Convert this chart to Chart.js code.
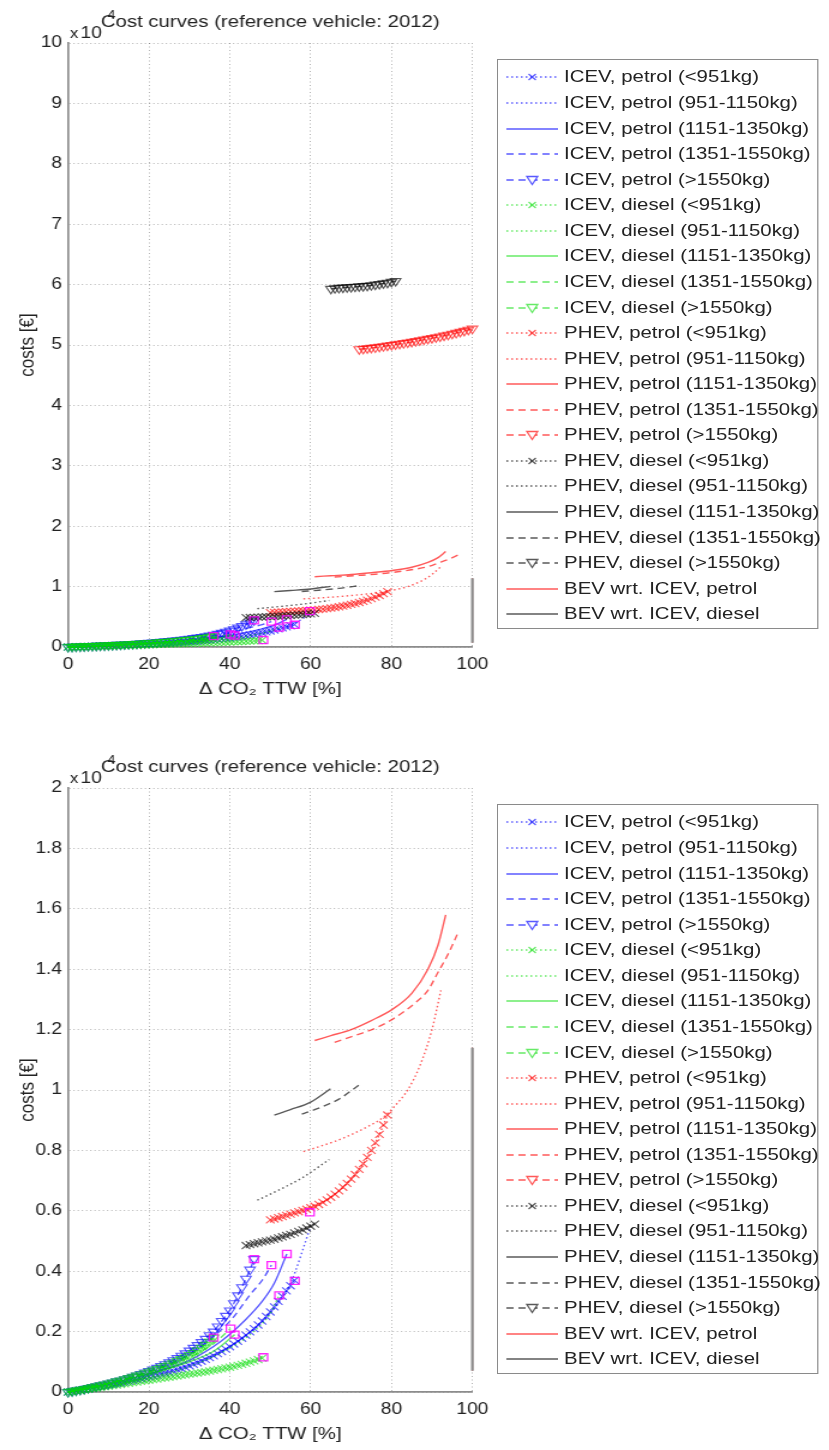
<!DOCTYPE html>
<html>
<head>
<meta charset="utf-8">
<script src="https://cdn.jsdelivr.net/npm/chart.js@4.4.1/dist/chart.umd.min.js"></script>
<style>
html, body { margin: 0; padding: 0; overflow: hidden; background: #fff; }
#fig { position: absolute; left: 0; top: 0; width: 691px; height: 1450px; overflow: hidden;
       transform: scaleX(1.2); transform-origin: 0 0; }
.panel { position: absolute; left: 0; width: 691px; height: 745px; }
.panel canvas.plot { position: absolute; left: 0; top: 0; }
.legend { position: absolute; left: 414px; top: 59px; width: 267.5px; height: 570px;
          box-sizing: border-box; border: 1.5px solid #8a8a8a; padding-top: 4.7px; background: #fff; }
.row { height: 25.57px; display: flex; align-items: center; white-space: nowrap;
       font: 17px "Liberation Sans", Arial, sans-serif; color: #222; }
.row canvas { margin-left: 6.8px; margin-right: 5.3px; flex: none; }
</style>
</head>
<body>
<div id="fig">
  <div class="panel" style="top:0"><canvas class="plot" id="topChart" width="415" height="745"></canvas><div class="legend" id="topLegend"></div></div>
  <div class="panel" style="top:745px"><canvas class="plot" id="bottomChart" width="415" height="745"></canvas><div class="legend" id="bottomLegend"></div></div>
</div>
<script>
// tick values
var xTicks = [0, 20, 40, 60, 80, 100];
var topYTicks = [0, 1, 2, 3, 4, 5, 6, 7, 8, 9, 10];
var bottomYTicks = [0, 0.2, 0.4, 0.6, 0.8, 1, 1.2, 1.4, 1.6, 1.8, 2];

// series: [Δ CO2 TTW %, costs x10^4 €]
var icevPetrolLt951 = [[0,0],[1,0.002],[2,0.004],[3,0.006],[4,0.009],[5,0.011],[6,0.013],[7,0.016],[8,0.018],[9,0.02],[10,0.023],[11,0.025],[12,0.028],[13,0.03],[14,0.033],[15,0.036],[16,0.039],[17,0.041],[18,0.044],[19,0.047],[20,0.05],[21,0.053],[22,0.056],[23,0.06],[24,0.063],[25,0.066],[26,0.07],[27,0.074],[28,0.078],[29,0.082],[30,0.087],[31,0.092],[32,0.097],[33,0.102],[34,0.108],[35,0.114],[36,0.12],[37,0.127],[38,0.134],[39,0.142],[40,0.15],[41,0.159],[42,0.168],[43,0.178],[44,0.188],[45,0.199],[46,0.21],[47,0.222],[48,0.235],[49,0.25],[50,0.265],[51,0.282],[52,0.3],[53,0.317],[54,0.335],[55,0.352],[56,0.37]];
var icevPetrol951 = [[0,0],[10,0.022],[20,0.05],[30,0.09],[40,0.15],[45,0.195],[50,0.26],[55,0.36],[59.8,0.54]];
var icevPetrol1151 = [[0,0],[10,0.026],[20,0.06],[30,0.105],[38,0.17],[43.7,0.237],[48,0.3],[51,0.36],[54.1,0.457]];
var icevPetrol1351 = [[0,0],[10,0.03],[20,0.068],[30,0.125],[40.2,0.237],[45.2,0.325],[48,0.37],[50.3,0.42]];
var icevPetrolGt1550 = [[0,0],[1,0.0025],[2,0.005],[3,0.0075],[4,0.01],[5,0.013],[6,0.016],[7,0.019],[8,0.022],[9,0.025],[10,0.028],[11,0.031],[12,0.035],[13,0.038],[14,0.042],[15,0.046],[16,0.05],[17,0.054],[18,0.059],[19,0.064],[20,0.069],[21,0.074],[22,0.08],[23,0.086],[24,0.092],[25,0.098],[26,0.105],[27,0.112],[28,0.12],[29,0.128],[30,0.137],[31,0.146],[32,0.155],[33,0.165],[34,0.176],[35,0.188],[36,0.2],[37,0.217],[38,0.235],[39,0.252],[40,0.27],[41,0.294],[42,0.32],[43,0.347],[44,0.375],[45,0.405],[46,0.44]];

var icevDieselLt951 = [[0,0],[1,0.002],[2,0.004],[3,0.006],[4,0.008],[5,0.0095],[6,0.011],[7,0.013],[8,0.015],[9,0.017],[10,0.019],[11,0.021],[12,0.023],[13,0.025],[14,0.027],[15,0.029],[16,0.031],[17,0.033],[18,0.035],[19,0.037],[20,0.039],[21,0.041],[22,0.043],[23,0.045],[24,0.047],[25,0.049],[26,0.051],[27,0.053],[28,0.055],[29,0.057],[30,0.059],[31,0.061],[32,0.063],[33,0.065],[34,0.067],[35,0.0695],[36,0.072],[37,0.0745],[38,0.077],[39,0.0795],[40,0.082],[41,0.085],[42,0.088],[43,0.0915],[44,0.095],[45,0.099],[46,0.103],[47,0.1075],[48,0.112]];
var icevDiesel951 = [[0,0],[10,0.022],[20,0.048],[30,0.085],[40,0.145],[45,0.19],[50,0.26],[52.2,0.32]];
var icevDiesel1151 = [[0,0],[10,0.028],[20,0.06],[30,0.1],[36,0.135],[41.2,0.19]];
var icevDiesel1351 = [[0,0],[10,0.03],[20,0.066],[30,0.115],[36,0.16],[40.2,0.21]];
var icevDieselGt1550 = [[0,0],[1,0.0025],[2,0.005],[3,0.0075],[4,0.01],[5,0.013],[6,0.016],[7,0.019],[8,0.022],[9,0.025],[10,0.028],[11,0.031],[12,0.035],[13,0.038],[14,0.042],[15,0.046],[16,0.05],[17,0.054],[18,0.058],[19,0.062],[20,0.067],[21,0.071],[22,0.076],[23,0.081],[24,0.086],[25,0.091],[26,0.097],[27,0.103],[28,0.109],[29,0.115],[30,0.122],[31,0.129],[32,0.137],[33,0.146],[34,0.156],[35,0.167],[36,0.18]];

var phevPetrolLt951 = [[50,0.57],[51,0.573],[52,0.577],[53,0.581],[54,0.585],[55,0.589],[56,0.593],[57,0.597],[58,0.601],[59,0.605],[60,0.61],[61,0.615],[62,0.621],[63,0.628],[64,0.636],[65,0.645],[66,0.655],[67,0.666],[68,0.678],[69,0.691],[70,0.705],[71,0.72],[72,0.737],[73,0.756],[74,0.777],[75,0.8],[76,0.825],[77,0.853],[78,0.884],[79,0.917]];
var phevPetrol951 = [[58.2,0.796],[62,0.812],[66,0.83],[70,0.852],[74,0.878],[78,0.91],[81,0.95],[84,1.0],[87,1.08],[90,1.2],[92.2,1.33]];
var phevPetrol1151 = [[61,1.164],[65,1.18],[70,1.2],[75,1.23],[80.2,1.267],[85,1.32],[89,1.4],[91.5,1.48],[93.4,1.58]];
var phevPetrol1351 = [[65.9,1.158],[72,1.185],[76,1.205],[80.2,1.234],[86,1.29],[89,1.33],[91.5,1.39],[94,1.45],[96.4,1.52]];
var phevPetrolGt1550 = [[72,4.93],[73,4.937],[74,4.945],[75,4.952],[76,4.96],[77,4.97],[78,4.98],[79,4.99],[80,5.0],[81,5.01],[82,5.02],[83,5.03],[84,5.04],[85,5.052],[86,5.064],[87,5.077],[88,5.09],[89,5.102],[90,5.114],[91,5.127],[92,5.14],[93,5.155],[94,5.17],[95,5.185],[96,5.2],[97,5.217],[98,5.234],[99,5.252],[100,5.27]];

var phevDieselLt951 = [[44,0.485],[45,0.488],[46,0.491],[47,0.494],[48,0.497],[49,0.5],[50,0.503],[51,0.506],[52,0.51],[53,0.514],[54,0.518],[55,0.522],[56,0.527],[57,0.532],[58,0.537],[59,0.543],[60,0.549],[61,0.556]];
var phevDiesel951 = [[46.8,0.635],[52,0.668],[58,0.71],[64.6,0.77]];
var phevDiesel1151 = [[51,0.917],[55,0.935],[60,0.96],[64.9,1.004]];
var phevDiesel1351 = [[57.8,0.92],[62,0.94],[67,0.97],[72,1.017]];
var phevDieselGt1550 = [[65,5.93],[66,5.94],[67,5.945],[68,5.95],[69,5.955],[70,5.96],[71,5.965],[72,5.97],[73,5.975],[74,5.98],[75,5.99],[76,6.0],[77,6.01],[78,6.02],[79,6.03],[80,6.045],[81,6.06]];

var bevPetrol = [[100,0.07],[100,1.14]];
var bevDiesel = [[100,0.07],[100,1.14]];

// end points marked with squares (not in legend)
var curveEnds = [[46,0.44],[50.3,0.42],[54.1,0.457],[59.8,0.595],[56.1,0.368],[36,0.18],[40.2,0.21],[41.2,0.19],[52.2,0.32],[48.3,0.115]];

var seriesLabels = [
  'ICEV, petrol (<951kg)', 'ICEV, petrol (951-1150kg)', 'ICEV, petrol (1151-1350kg)', 'ICEV, petrol (1351-1550kg)', 'ICEV, petrol (>1550kg)',
  'ICEV, diesel (<951kg)', 'ICEV, diesel (951-1150kg)', 'ICEV, diesel (1151-1350kg)', 'ICEV, diesel (1351-1550kg)', 'ICEV, diesel (>1550kg)',
  'PHEV, petrol (<951kg)', 'PHEV, petrol (951-1150kg)', 'PHEV, petrol (1151-1350kg)', 'PHEV, petrol (1351-1550kg)', 'PHEV, petrol (>1550kg)',
  'PHEV, diesel (<951kg)', 'PHEV, diesel (951-1150kg)', 'PHEV, diesel (1151-1350kg)', 'PHEV, diesel (1351-1550kg)', 'PHEV, diesel (>1550kg)',
  'BEV wrt. ICEV, petrol', 'BEV wrt. ICEV, diesel'
];
var seriesData = [
  icevPetrolLt951, icevPetrol951, icevPetrol1151, icevPetrol1351, icevPetrolGt1550,
  icevDieselLt951, icevDiesel951, icevDiesel1151, icevDiesel1351, icevDieselGt1550,
  phevPetrolLt951, phevPetrol951, phevPetrol1151, phevPetrol1351, phevPetrolGt1550,
  phevDieselLt951, phevDiesel951, phevDiesel1151, phevDiesel1351, phevDieselGt1550,
  bevPetrol, bevDiesel
];

var FONT = '"Liberation Sans", Arial, sans-serif';
var groupColors = ['rgba(0,0,255,0.65)', 'rgba(0,220,0,0.6)', 'rgba(255,0,0,0.65)', 'rgba(0,0,0,0.65)'];
var kinds = ['xdot', 'dot', 'solid', 'dash', 'tri'];

function colorOf(i) {
  if (i < 20) return groupColors[Math.floor(i / 5)];
  return i === 20 ? groupColors[2] : groupColors[3];
}
function kindOf(i) { return i < 20 ? kinds[i % 5] : 'solid'; }
function dashOf(kind) {
  if (kind === 'xdot' || kind === 'dot') return [1.5, 2.5];
  if (kind === 'dash' || kind === 'tri') return [6, 4];
  return [];
}

function buildDatasets() {
  var sets = seriesData.map(function (d, i) {
    var k = kindOf(i), c = colorOf(i);
    var marker = k === 'xdot' || k === 'tri';
    // BEV diesel line drawn opaque grey over the (thinner) BEV petrol one
    var lineColor = i === 21 ? '#8a8a8a' : c;
    var width = i === 21 ? 2.2 : (i === 20 ? 1 : 1.4);
    return {
      label: seriesLabels[i],
      data: d,
      showLine: true,
      borderColor: lineColor,
      borderWidth: width,
      borderDash: dashOf(k),
      cubicInterpolationMode: marker ? 'default' : 'monotone',
      pointStyle: k === 'tri' ? 'triangle' : 'crossRot',
      pointRotation: k === 'tri' ? 180 : 0,
      pointRadius: marker ? 5 : 0,
      pointBorderColor: c,
      pointBackgroundColor: 'rgba(0,0,0,0)',
      pointBorderWidth: 1.15,
      clip: 8,
      order: -i
    };
  });
  sets.push({
    label: 'ends',
    data: curveEnds,
    showLine: false,
    pointStyle: 'rect',
    pointRadius: 5,
    pointBorderColor: 'rgba(255,0,255,0.85)',
    pointBackgroundColor: 'rgba(0,0,0,0)',
    pointBorderWidth: 1.3,
    clip: 8,
    order: -30
  });
  return sets;
}

var figText = {
  id: 'figText',
  afterDraw: function (chart) {
    var ctx = chart.ctx, a = chart.chartArea;
    ctx.save();
    ctx.fillStyle = '#222';
    ctx.textBaseline = 'alphabetic';
    ctx.textAlign = 'left';
    ctx.font = '14px ' + FONT;
    ctx.fillText('x', 58.3, 38);
    ctx.font = '16px ' + FONT;
    ctx.fillText('10', 67, 38);
    ctx.font = '17px ' + FONT;
    ctx.textAlign = 'center';
    ctx.fillText('Cost curves (reference vehicle: 2012)', (a.left + a.right) / 2, 27);
    ctx.textAlign = 'left';
    ctx.font = '12px ' + FONT;
    ctx.fillText('4', 89.5, 19);
    ctx.restore();
  }
};

function makeChart(id, yMax, yTicks) {
  var grid = { color: 'rgba(0,0,0,0.3)', lineWidth: 1, drawTicks: false };
  var border = { display: true, color: '#8c8c8c', width: 1.7, dash: [1, 2.5] };
  return new Chart(document.getElementById(id), {
    type: 'scatter',
    data: { datasets: buildDatasets() },
    plugins: [figText],
    options: {
      responsive: false,
      animation: false,
      devicePixelRatio: 1,
      layout: { padding: { top: 43, right: 16.7, bottom: 38, left: 0 } },
      plugins: { legend: { display: false }, tooltip: { enabled: false } },
      scales: {
        x: {
          type: 'linear', min: 0, max: 100,
          afterBuildTicks: function (s) { s.ticks = xTicks.map(function (v) { return { value: v }; }); },
          afterFit: function (s) { s.height = 60; },
          ticks: { font: { size: 16, family: FONT }, color: '#222', padding: 8, maxRotation: 0 },
          grid: grid, border: border,
          title: { display: true, text: 'Δ CO₂ TTW [%]', color: '#222',
                   font: { size: 17, family: FONT }, padding: { top: 0, bottom: 7 } }
        },
        y: {
          type: 'linear', min: 0, max: yMax,
          afterBuildTicks: function (s) { s.ticks = yTicks.map(function (v) { return { value: v }; }); },
          afterFit: function (s) { s.width = 56.7; },
          ticks: { font: { size: 16, family: FONT }, color: '#222', padding: 5,
                   callback: function (v) { return String(Math.round(v * 10) / 10); } },
          grid: grid, border: border,
          title: { display: true, text: 'costs [€]', color: '#222',
                   font: { size: 17, family: FONT }, padding: { top: 13, bottom: 0 } }
        }
      }
    }
  });
}

function buildLegend(id) {
  var box = document.getElementById(id);
  seriesLabels.forEach(function (label, i) {
    var row = document.createElement('div');
    row.className = 'row';
    var cv = document.createElement('canvas');
    cv.width = 43; cv.height = 16;
    var c = cv.getContext('2d'), k = kindOf(i), col = colorOf(i);
    c.strokeStyle = col; c.lineWidth = 1.3;
    c.setLineDash(dashOf(k));
    c.beginPath(); c.moveTo(0, 8); c.lineTo(43, 8); c.stroke();
    c.setLineDash([]);
    if (k === 'xdot') {
      c.beginPath();
      c.moveTo(18.5, 5); c.lineTo(24.5, 11); c.moveTo(24.5, 5); c.lineTo(18.5, 11);
      c.stroke();
    } else if (k === 'tri') {
      c.beginPath();
      c.moveTo(17, 4.5); c.lineTo(26, 4.5); c.lineTo(21.5, 12.5); c.closePath();
      c.fillStyle = '#fff'; c.fill(); c.stroke();
    }
    var span = document.createElement('span');
    span.textContent = label;
    row.appendChild(cv); row.appendChild(span);
    box.appendChild(row);
  });
}

makeChart('topChart', 10, topYTicks);
makeChart('bottomChart', 2, bottomYTicks);
buildLegend('topLegend');
buildLegend('bottomLegend');
</script>
</body>
</html>
